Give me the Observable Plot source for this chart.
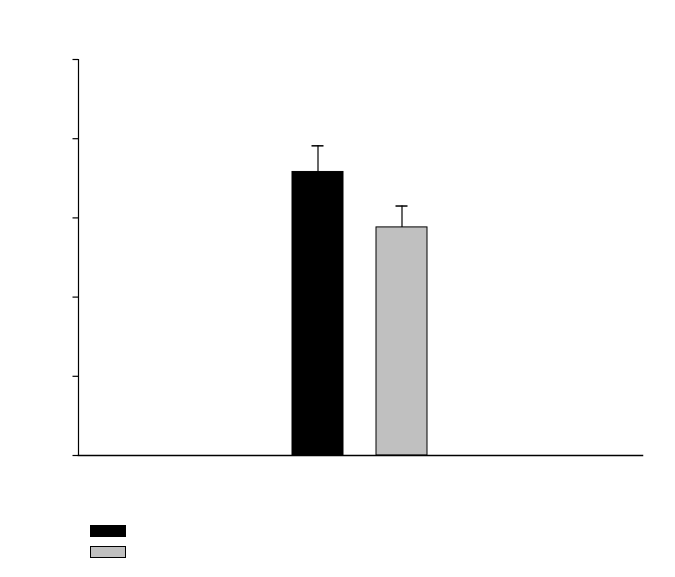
<!DOCTYPE html>
<html>
<head>
<meta charset="utf-8">
<script src="https://cdn.jsdelivr.net/npm/d3@7"></script>
<script src="https://cdn.jsdelivr.net/npm/@observablehq/plot@0.6"></script>
<style>
  body { margin: 0; background: #fff; font-family: "Liberation Sans", Arial, sans-serif; }
  #wrap { position: relative; width: 675px; height: 577px; }
  .sw { position: absolute; box-sizing: border-box; border: 1px solid #000; }
</style>
</head>
<body>
<div id="wrap"></div>
<script>
// Data (no labels visible in the reference)
const groups = ["A", "B"];
const values = [3.58, 2.88];
const errors = [0.33, 0.27];
const colors = ["#000000", "#c0c0c0"];
const yTicks = [0, 1, 2, 3, 4, 5];

const data = groups.map((g, i) => ({group: g, value: values[i], err: errors[i], color: colors[i]}));

const chart = Plot.plot({
  width: 675,
  height: 577,
  marginLeft: 78,
  marginRight: 33,
  marginTop: 59,
  marginBottom: 122,
  style: {background: "#fff"},
  x: {domain: groups, paddingInner: 0.39, paddingOuter: 2.52, axis: null},
  y: {domain: [0, 5], axis: null},
  marks: [
    Plot.barY(data, {x: "group", y: "value", fill: "color", stroke: "#000", strokeWidth: 1}),
    Plot.ruleX(data, {x: "group", y1: "value", y2: d => d.value + d.err, stroke: "#000", strokeWidth: 1.2}),
    Plot.tickY(data, {x: "group", y: d => d.value + d.err, stroke: "#000", strokeWidth: 1.5, insetLeft: 19.5, insetRight: 19.5}),
    Plot.axisY({ticks: yTicks, tickSize: 5.5, tickFormat: () => "", label: null, stroke: "#000", strokeWidth: 1.2}),
    Plot.frame({anchor: "left", stroke: "#000", strokeWidth: 1.2}),
    Plot.frame({anchor: "bottom", stroke: "#000", strokeWidth: 1.5})
  ]
});

const wrap = document.getElementById("wrap");
wrap.appendChild(chart);

// Legend swatches (no text in the reference)
colors.forEach((c, i) => {
  const d = document.createElement("div");
  d.className = "sw";
  d.style.left = "90px";
  d.style.top = (525 + i * 21) + "px";
  d.style.width = "36px";
  d.style.height = "12px";
  d.style.background = c;
  wrap.appendChild(d);
});
</script>
</body>
</html>
